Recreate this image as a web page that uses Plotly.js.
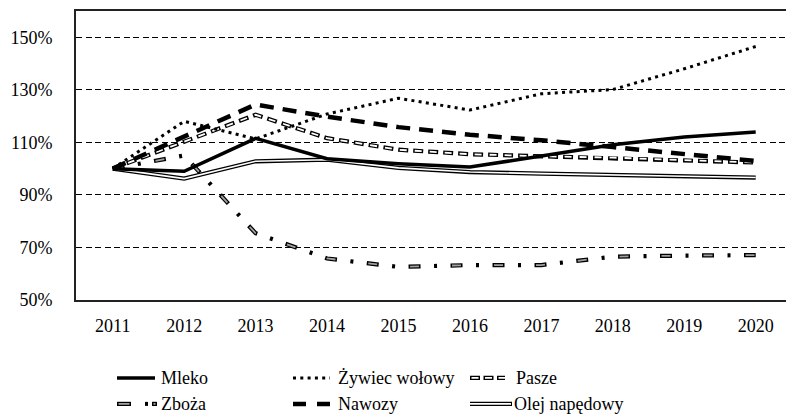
<!DOCTYPE html>
<html>
<head>
<meta charset="utf-8">
<script src="https://cdn.plot.ly/plotly-3.0.1.min.js"></script>
</head>
<body style="margin:0">
<div id="chart"></div>
<script>
// ---- data ----
const years = [2011, 2012, 2013, 2014, 2015, 2016, 2017, 2018, 2019, 2020];
const mleko = [100, 99.0, 111.5, 103.8, 101.9, 100.6, 104.8, 109.1, 112.0, 113.9];
const zywiec = [100, 118.0, 111.3, 120.8, 126.8, 122.3, 128.5, 130.1, 138.0, 146.5];
const pasze = [100, 110.1, 120.5, 111.6, 107.2, 105.5, 104.7, 104.2, 103.2, 102.3];
const zboza = [100, 105.0, 75.4, 65.8, 62.6, 63.3, 63.3, 66.5, 66.9, 67.1];
const nawozy = [100, 112.0, 124.4, 119.8, 115.8, 112.9, 110.8, 108.2, 105.5, 102.9];
const olej = [100, 96.2, 102.8, 103.4, 100.3, 98.7, 98.1, 97.5, 97.1, 96.6];
const seriesNames = ["Mleko", "Żywiec wołowy", "Pasze", "Zboża", "Nawozy", "Olej napędowy"];
const yTicks = [50, 70, 90, 110, 130, 150];
const yTickText = ["50%", "70%", "90%", "110%", "130%", "150%"];

const FONT = "Times New Roman";

function tr(y, name, line) {
  return {x: years, y: y, name: name, mode: "lines", line: line, showlegend: false, hoverinfo: "skip"};
}

const traces = [
  tr(olej, seriesNames[5], {color: "#000", width: 4.2}),
  tr(olej, seriesNames[5], {color: "#fff", width: 1.6}),
  tr(zboza, seriesNames[3], {color: "#000", width: 4.2, dash: "12px,13.5px,3px,13.5px"}),
  tr(zboza, seriesNames[3], {color: "#a0a0a0", width: 1.8, dash: "0px,1.5px,9px,31.5px"}),
  tr(pasze, seriesNames[2], {color: "#000", width: 4.2, dash: "10px,5px"}),
  tr(pasze, seriesNames[2], {color: "#fff", width: 1.8, dash: "0px,1.5px,7px,6.5px"}),
  tr(nawozy, seriesNames[4], {color: "#000", width: 4.5, dash: "14px,9px"}),
  tr(zywiec, seriesNames[1], {color: "#000", width: 3, dash: "3px,4.3px"}),
  tr(mleko, seriesNames[0], {color: "#000", width: 3.5})
];

// legend (paper coordinates)
const L = 76, W = 710, B = 300, H = 289.3;
const px = v => (v - L) / W;
const py = v => (B - v) / H;
const r1 = 378, r2 = 404;
const shapes = [];
function seg(x0, x1, y, line) {
  shapes.push({type: "line", xref: "paper", yref: "paper", x0: px(x0), x1: px(x1), y0: py(y), y1: py(y), line: line});
}
seg(117, 155, r1, {color: "#000", width: 3.5});
seg(293, 330, r1, {color: "#000", width: 3, dash: "3px,4.3px"});
seg(470, 505, r1, {color: "#000", width: 4.2, dash: "10px,3.5px"});
seg(470, 505, r1, {color: "#fff", width: 1.8, dash: "0px,1.5px,7px,5px"});
seg(117, 131, r2, {color: "#000", width: 4.2});
seg(118.5, 129.5, r2, {color: "#a0a0a0", width: 1.8});
seg(145, 148, r2, {color: "#000", width: 4});
seg(152, 157, r2, {color: "#000", width: 4.2});
seg(153.5, 155.5, r2, {color: "#a0a0a0", width: 1.8});
seg(293, 330, r2, {color: "#000", width: 4.5, dash: "13px,11px"});
seg(470, 512, r2, {color: "#000", width: 4.2});
seg(470, 511, r2, {color: "#fff", width: 1.6});

const annotations = [];
function lab(x, y, t) {
  annotations.push({xref: "paper", yref: "paper", x: px(x), y: py(y), text: t, showarrow: false,
    xanchor: "left", yanchor: "middle", font: {family: FONT, size: 18, color: "#000"}});
}
lab(159, r1, seriesNames[0]);
lab(336, r1, seriesNames[1]);
lab(514, r1, seriesNames[2]);
lab(159, r2, seriesNames[3]);
lab(336, r2, seriesNames[4]);
lab(512, r2, seriesNames[5]);

const layout = {
  width: 786, height: 415,
  margin: {l: 76, r: 0, t: 11, b: 115, pad: 0},
  paper_bgcolor: "#fff", plot_bgcolor: "#fff",
  showlegend: false,
  xaxis: {
    range: [2010.486, 2020.424], tickvals: years, ticktext: years.map(String),
    showgrid: false, zeroline: false, ticks: "", ticklabelstandoff: 8,
    showline: true, linecolor: "#222", linewidth: 2, mirror: true,
    tickfont: {family: FONT, size: 18, color: "#000"}
  },
  yaxis: {
    range: [50, 160], tickvals: yTicks, ticktext: yTickText,
    showgrid: true, gridcolor: "#000", gridwidth: 1, griddash: "6px,3.5px",
    zeroline: false, ticks: "", ticklabelstandoff: 18,
    showline: true, linecolor: "#222", linewidth: 2, mirror: true,
    tickfont: {family: FONT, size: 18, color: "#000"}
  },
  shapes: shapes,
  annotations: annotations
};

Plotly.newPlot("chart", traces, layout, {displayModeBar: false});
</script>
</body>
</html>
